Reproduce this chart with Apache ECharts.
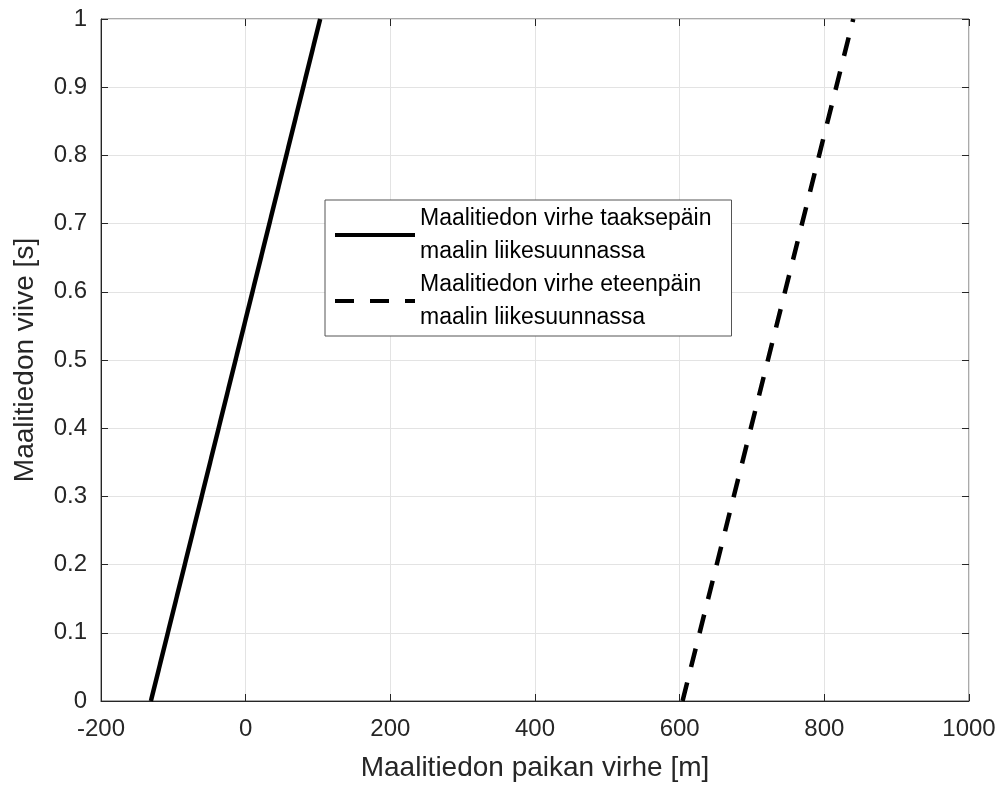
<!DOCTYPE html>
<html>
<head>
<meta charset="utf-8">
<script src="https://cdn.jsdelivr.net/npm/echarts@6/dist/echarts.min.js"></script>
<style>
  html, body { margin: 0; padding: 0; background: #fff; }
  #chart { width: 1002px; height: 787px; }
</style>
</head>
<body>
<div id="chart"></div>
<script>
// virheen arvot (m) ja viive (s)
const seriesNames = [
  'Maalitiedon virhe taaksepäin\nmaalin liikesuunnassa',
  'Maalitiedon virhe eteenpäin\nmaalin liikesuunnassa'
];
const delay = [0, 1];
const backwardError = [-131, 103];
const forwardError = [604, 840];

const font = 'Liberation Sans, Arial, sans-serif';
const axisColor = '#262626';

const chart = echarts.init(document.getElementById('chart'));

const hiddenAxis = {
  axisLabel: { show: false },
  axisLine: { show: false, onZero: false },
  splitLine: { show: false },
  axisTick: { show: true, inside: true, length: 7, lineStyle: { color: axisColor } }
};

const option = {
  animation: false,
  backgroundColor: '#fff',
  grid: {
    left: 101, right: 33, top: 19, bottom: 83,
    show: true, borderColor: '#555', borderWidth: 1
  },
  legend: {
    orient: 'vertical',
    left: 325, top: 200,
    padding: [2, 20, 2, 8],
    itemGap: 0,
    itemWidth: 80, itemHeight: 14,
    backgroundColor: '#fff',
    borderColor: '#555', borderWidth: 1,
    itemStyle: { opacity: 0 },
    lineStyle: { width: 4, color: '#000' },
    textStyle: { fontFamily: font, fontSize: 23, color: '#000', lineHeight: 33 },
    data: seriesNames
  },
  xAxis: [{
    type: 'value', min: -200, max: 1000, interval: 200,
    name: 'Maalitiedon paikan virhe [m]',
    nameLocation: 'middle', nameGap: 53,
    nameTextStyle: { fontFamily: font, fontSize: 28, color: axisColor },
    axisLine: { show: true, onZero: false, lineStyle: { color: axisColor } },
    axisTick: { inside: true, length: 7, lineStyle: { color: axisColor } },
    axisLabel: { fontFamily: font, fontSize: 24, color: axisColor, margin: 16, formatter: v => String(v) },
    splitLine: { lineStyle: { color: '#e3e3e3' } }
  }, Object.assign({ type: 'value', position: 'top', min: -200, max: 1000, interval: 200 }, hiddenAxis)],
  yAxis: [{
    type: 'value', min: 0, max: 1, interval: 0.1,
    name: 'Maalitiedon viive [s]',
    nameLocation: 'middle', nameGap: 62,
    nameTextStyle: { fontFamily: font, fontSize: 28, color: axisColor },
    axisLine: { show: true, onZero: false, lineStyle: { color: axisColor } },
    axisTick: { inside: true, length: 7, lineStyle: { color: axisColor } },
    axisLabel: { fontFamily: font, fontSize: 24, color: axisColor, margin: 14 },
    splitLine: { lineStyle: { color: '#e3e3e3' } }
  }, Object.assign({ type: 'value', position: 'right', min: 0, max: 1, interval: 0.1 }, hiddenAxis)],
  series: [{
    name: seriesNames[0],
    type: 'line',
    symbol: 'none',
    lineStyle: { color: '#000', width: 4.5 },
    data: delay.map((d, i) => [backwardError[i], d])
  }, {
    name: seriesNames[1],
    type: 'line',
    symbol: 'none',
    lineStyle: { color: '#000', width: 4.5, type: [19, 16] },
    data: delay.map((d, i) => [forwardError[i], d])
  }]
};

chart.setOption(option);
</script>
</body>
</html>
